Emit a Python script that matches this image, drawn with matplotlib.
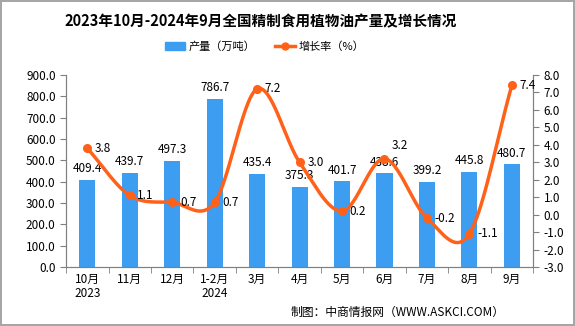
import numpy as np
import matplotlib
matplotlib.use("Agg")
import matplotlib.pyplot as plt
from matplotlib.lines import Line2D
from matplotlib.patches import Patch

plt.rcParams['font.family'] = ['Noto Sans CJK SC', 'DejaVu Sans']

months = ["10月\n2023", "11月", "12月", "1-2月\n2024", "3月", "4月", "5月",
          "6月", "7月", "8月", "9月"]
output = [409.4, 439.7, 497.3, 786.7, 435.4, 375.3, 401.7, 438.6, 399.2, 445.8, 480.7]
growth = [3.8, 1.1, 0.7, 0.7, 7.2, 3.0, 0.2, 3.2, -0.2, -1.1, 7.4]

bar_color = "#3d9df0"
line_color = "#ff6119"


def smooth(xs, ys, n=30):
    # smoothed line like the office chart one (bezier through the points)
    xs = np.asarray(xs, float)
    ys = np.asarray(ys, float)
    px = np.concatenate([[2 * xs[0] - xs[1]], xs, [2 * xs[-1] - xs[-2]]])
    py = np.concatenate([[2 * ys[0] - ys[1]], ys, [2 * ys[-1] - ys[-2]]])
    out_x, out_y = [], []
    t = np.linspace(0, 1, n)
    for i in range(1, len(px) - 2):
        p0, p1, p2, p3 = (np.array([px[j], py[j]]) for j in range(i - 1, i + 3))
        c1 = p1 + (p2 - p0) / 6
        c2 = p2 - (p3 - p1) / 6
        b = ((1 - t) ** 3)[:, None] * p1 + (3 * (1 - t) ** 2 * t)[:, None] * c1 \
            + (3 * (1 - t) * t ** 2)[:, None] * c2 + (t ** 3)[:, None] * p2
        out_x.extend(b[:, 0])
        out_y.extend(b[:, 1])
    return out_x, out_y


fig = plt.figure(figsize=(5.75, 3.26), dpi=100)
fig.patch.set_edgecolor("#a6a6a6")
fig.patch.set_linewidth(1.5)

ax = fig.add_axes([0.115, 0.181, 0.812, 0.589])
ax2 = ax.twinx()

x = np.arange(len(months))
ax.bar(x, output, width=0.38, color=bar_color, zorder=2)
for xi, v in zip(x, output):
    ax.text(xi, v + 22, f"{v:.1f}", ha="center", va="bottom", fontsize=8.5)

sx, sy = smooth(x, growth)
ax2.plot(sx, sy, color=line_color, lw=2.5, zorder=3)
ax2.plot(x, growth, "o", color=line_color, ms=5.5, zorder=4)
for i, (xi, v) in enumerate(zip(x, growth)):
    # the 6月 label sits a bit higher in the original
    dy = 0.75 if i == 7 else 0
    ax2.text(xi + 0.18, v + dy, f"{v:.1f}", ha="left", va="center", fontsize=8.5)

ax.set_xlim(-0.5, len(months) - 0.5)
ax.set_ylim(0, 900)
ax.set_yticks(np.arange(0, 901, 100))
ax.set_yticklabels([f"{v:.1f}" for v in np.arange(0, 901, 100)])
ax2.set_ylim(-3, 8)
ax2.set_yticks(np.arange(-3, 9, 1))
ax2.set_yticklabels([f"{v:.1f}" for v in np.arange(-3, 9, 1)])

ax.set_xticks(x)
ax.set_xticklabels(months, fontsize=8.5, linespacing=1.1)
ax.set_xticks(np.arange(-0.5, len(months), 1), minor=True)
ax.tick_params(axis="x", which="major", length=0, pad=4)
ax.tick_params(axis="x", which="minor", length=4, color="#808080")
ax.tick_params(axis="y", labelsize=8.5, length=4, color="#808080")
ax2.tick_params(axis="y", labelsize=8.5, length=4, color="#808080")

for a in (ax, ax2):
    a.spines["top"].set_visible(False)
    for s in ("left", "right", "bottom"):
        a.spines[s].set_color("#808080")

fig.text(0.454, 0.935, "2023年10月-2024年9月全国精制食用植物油产量及增长情况",
         ha="center", va="center", fontsize=10.5, fontweight="bold")

handles = [Patch(color=bar_color),
           Line2D([0], [0], color=line_color, lw=2.5, marker="o", ms=5)]
fig.legend(handles, ["产量（万吨）", "增长率（%）"], loc="center",
           bbox_to_anchor=(0.46, 0.856), ncol=2, frameon=False, fontsize=8,
           handlelength=1.8, columnspacing=1.8, handletextpad=0.3)

fig.text(0.878, 0.043, "制图：中商情报网（WWW.ASKCI.COM）", ha="right",
         va="center", fontsize=8.5)

fig.savefig("out.png", dpi=100)
